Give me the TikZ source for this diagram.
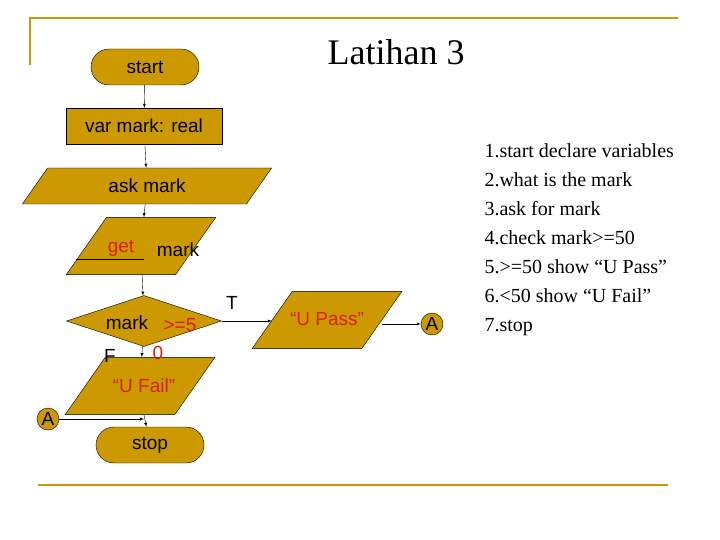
\documentclass[tikz,border=0pt]{standalone}
\usepackage{fontspec}
\setmainfont{Liberation Serif}
\setsansfont{Liberation Sans}
\usetikzlibrary{positioning, shapes.geometric, shapes.misc, arrows}
\definecolor{gold}{RGB}{204,153,0}
\definecolor{redtxt}{RGB}{220,30,10}
\tikzset{>=latex}

\begin{document}
\begin{tikzpicture}[x=1pt, y=-1pt,
  box/.style = {draw, fill=gold, font=\sffamily\fontsize{19}{19}\selectfont, inner sep=0pt},
  term/.style = {box, rounded rectangle, minimum width=108pt, minimum height=36pt},
  proc/.style = {box, rectangle, minimum width=156pt, minimum height=36pt},
  io/.style = {box, trapezium, trapezium left angle=55, trapezium right angle=125, minimum width=150pt, minimum height=36pt},
  conn/.style = {box, circle, minimum size=22pt},
  lbl/.style = {font=\sffamily\fontsize{19}{19}\selectfont, inner sep=0pt},
  -latex]
        \useasboundingbox (0,0) rectangle (720,540);
        % frame
        \draw[-, gold, line width=2pt] (30,65) -- (30,18) -- (678,18);
        \draw[-, gold, line width=2pt] (38,485) -- (668,485);
        \node[font=\fontsize{36}{36}\selectfont] (title) at (396,52) {Latihan 3};

        % nodes
        \node[term] (start) at (145,67) {start};
        \node[proc] (declare) at (144,126) {var mark: real};
        \node[io] (ask) at (147,186) {ask mark};
        \node[io] (get) at (141,246) {\phantom{M}};
        \node[box, diamond, minimum width=155pt, minimum height=51pt] (check) at (144,321) {\phantom{M}};
        \node[io, minimum height=42pt] (fail) at (140,386) {\phantom{M}};
        \node[term] (stop) at (150,445) {stop};
        \node[io, minimum height=42pt] (pass) at (327,320) {\phantom{M}};
        \node[conn] (conn_fail) at (48,419) {A};
        \node[conn] (conn_pass) at (432,324) {A};
        \coordinate (join) at (144,419);

        % texts
        \node[lbl, text=redtxt] (get_word) at (121,248) {get};
        \draw[-, line width=1pt] (76,259) -- (144,259);
        \node[lbl] (get_mark) at (178,250) {mark};
        \node[lbl] (check_mark) at (127,323) {mark};
        \node[lbl, text=redtxt] (check_op) at (180,325) {>=5};
        \node[lbl, text=redtxt] (check_zero) at (158,353) {0};
        \node[lbl, text=redtxt] (fail_txt) at (144,386) {“U Fail”};
        \node[lbl, text=redtxt] (pass_txt) at (327,319) {“U Pass”};
        \node[lbl] (false_lbl) at (110,356) {F};
        \node[lbl] (true_lbl) at (232,303) {T};

        \node[font=\fontsize{20}{29}\selectfont, align=left, anchor=north west] (steps) at (481,140) {1.start declare variables\\2.what is the mark\\3.ask for mark\\4.check mark>=50\\5.>=50 show “U Pass”\\6.<50 show “U Fail”\\7.stop};

        % connections
        \draw (start) -- (declare);
        \draw (declare) -- (ask);
        \draw (ask) -- (get);
        \draw (get) -- (check);
        \draw (check) -- (fail);
        \draw (fail.south -| join) -- (stop);
        \draw (conn_fail) -- (join);
        \draw (check.east) -- (pass.west |- check.east);
        \draw (pass.east |- conn_pass) -- (conn_pass);
\end{tikzpicture}
\end{document}
